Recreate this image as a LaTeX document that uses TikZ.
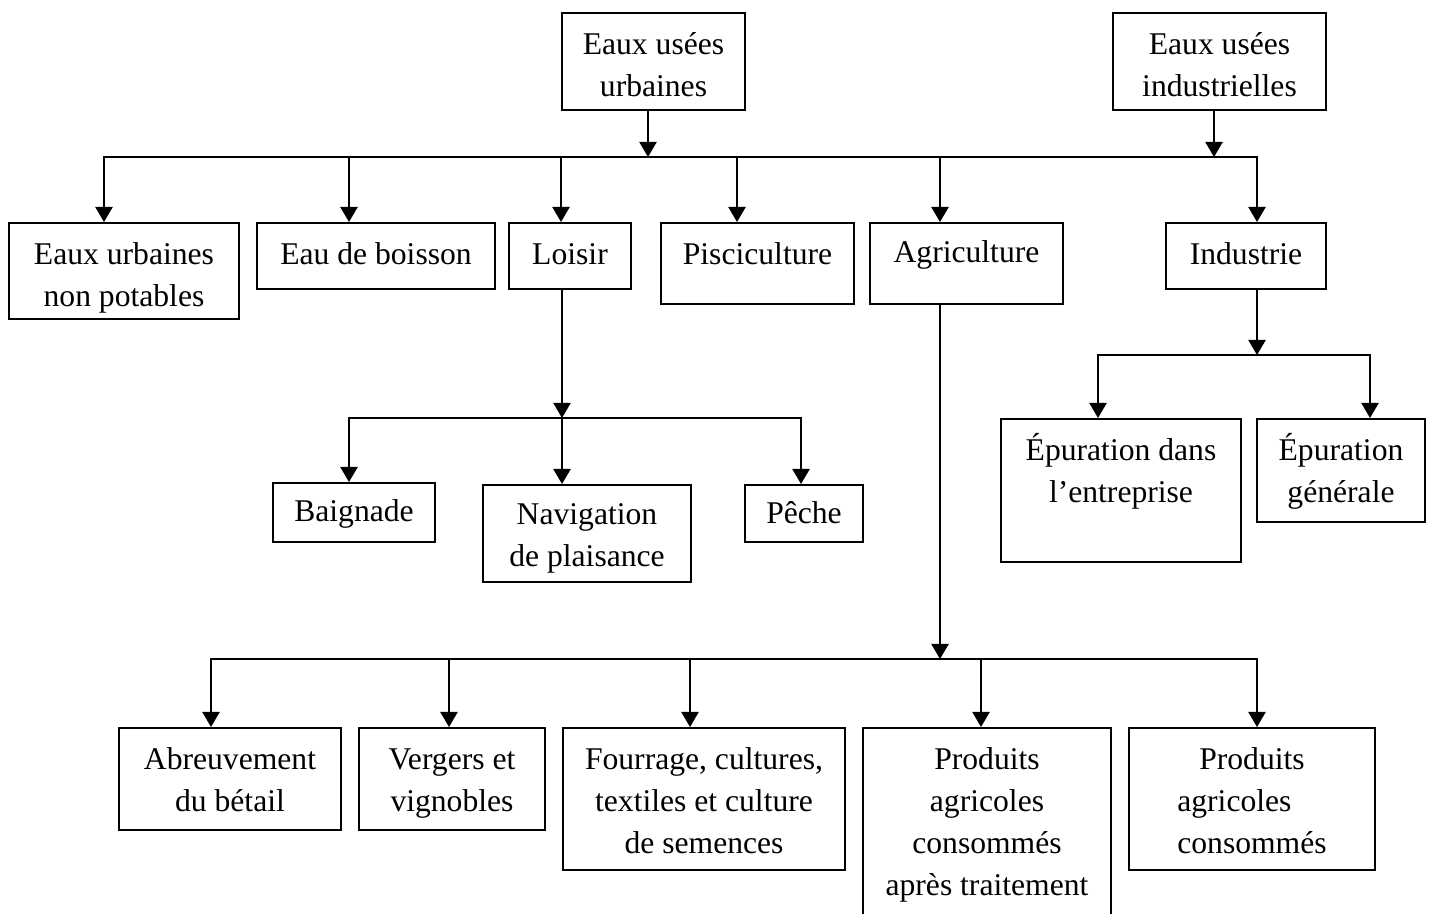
\documentclass[tikz,border=0pt]{standalone}
\usepackage{fontspec}
\setmainfont{Liberation Serif}
\usetikzlibrary{arrows.meta}
\newlength\px \setlength\px{0.02cm}
\newcommand\bx[4][42]{\parbox[c][#3\px][t]{#2\px}{\centering\rule{0pt}{#1\px}#4\par}}
\tikzset{
  box/.style={draw, line width=1.1pt, inner sep=0pt, anchor=north, font=\fontsize{18}{23.9}\selectfont},
  wire/.style={line width=1.1pt, line cap=rect},
  arr/.style={line width=1.1pt, -{Triangle[length=8.6pt,width=9.8pt]}}
}
\begin{document}
\begin{tikzpicture}[x=0.02cm, y=-0.02cm]
\useasboundingbox (0,0) rectangle (1433,913);
\clip (0,0) rectangle (1433,913);
% top sources
\node[box] (urb) at (653.5,12) {\bx{183}{97}{Eaux usées\\urbaines}};
\node[box] (ind) at (1219.5,12) {\bx{213}{97}{Eaux usées\\industrielles}};
% first level
\node[box] (eun) at (124,222) {\bx{230}{96}{Eaux urbaines\\non potables}};
\node[box] (eb) at (376,222) {\bx{238}{66}{Eau de boisson}};
\node[box] (loi) at (570,222) {\bx{122}{66}{Loisir}};
\node[box] (pis) at (757.5,222) {\bx{193}{81}{Pisciculture}};
\node[box] (agr) at (966.5,222) {\bx[40]{193}{81}{Agriculture}};
\node[box] (indu) at (1246,222) {\bx{160}{66}{Industrie}};
% loisir children
\node[box] (bai) at (354,482) {\bx[39]{162}{59}{Baignade}};
\node[box] (nav) at (587,484) {\bx[40]{208}{97}{Navigation\\de plaisance}};
\node[box] (pec) at (804,484) {\bx[39]{118}{57}{Pêche}};
% industrie children
\node[box] (epd) at (1121,418) {\bx{240}{143}{Épuration dans\\l’entreprise}};
\node[box] (epg) at (1341,418) {\bx{168}{103}{Épuration\\générale}};
% agriculture children
\node[box] (abr) at (230,727) {\bx{222}{102}{Abreuvement\\du bétail}};
\node[box] (ver) at (452,727) {\bx{186}{102}{Vergers et\\vignobles}};
\node[box] (fou) at (704,727) {\bx{282}{142}{Fourrage, cultures,\\textiles et culture\\de semences}};
\node[box] (pat) at (987,727) {\bx{248}{240}{Produits\\agricoles\\consommés\\après traitement}};
\node[box] (pc) at (1252,727) {\bx{246}{142}{\begin{tabular}[t]{@{}l@{}}\multicolumn{1}{@{}c@{}}{Produits}\\agricoles\\consommés\end{tabular}}};
% top bus
\coordinate (ju) at (648,157);
\coordinate (ji) at (1214,157);
\coordinate (d1) at (104,157);
\coordinate (d2) at (349,157);
\coordinate (d3) at (561,157);
\coordinate (d4) at (737,157);
\coordinate (d5) at (940,157);
\coordinate (d6) at (1257,157);
\draw[arr] (urb.south -| ju) -- (ju);
\draw[arr] (ind.south -| ji) -- (ji);
\draw[wire] (d1) -- (d6);
\draw[arr] (d1) -- (d1 |- eun.north);
\draw[arr] (d2) -- (d2 |- eb.north);
\draw[arr] (d3) -- (d3 |- loi.north);
\draw[arr] (d4) -- (d4 |- pis.north);
\draw[arr] (d5) -- (d5 |- agr.north);
\draw[arr] (d6) -- (d6 |- indu.north);
% loisir bus
\coordinate (jl) at (562,418);
\coordinate (l1) at (349,418);
\coordinate (l3) at (801,418);
\draw[arr] (loi.south -| jl) -- (jl);
\draw[wire] (l1) -- (l3);
\draw[arr] (l1) -- (l1 |- bai.north);
\draw[arr] (jl) -- (jl |- nav.north);
\draw[arr] (l3) -- (l3 |- pec.north);
% industrie bus
\coordinate (jn) at (1257,355);
\coordinate (n1) at (1098,355);
\coordinate (n2) at (1370,355);
\draw[arr] (indu.south -| jn) -- (jn);
\draw[wire] (n1) -- (n2);
\draw[arr] (n1) -- (n1 |- epd.north);
\draw[arr] (n2) -- (n2 |- epg.north);
% agriculture bus
\coordinate (ja) at (940,659);
\coordinate (a1) at (211,659);
\coordinate (a2) at (449,659);
\coordinate (a3) at (690,659);
\coordinate (a4) at (981,659);
\coordinate (a5) at (1257,659);
\draw[arr] (agr.south -| ja) -- (ja);
\draw[wire] (a1) -- (a5);
\draw[arr] (a1) -- (a1 |- abr.north);
\draw[arr] (a2) -- (a2 |- ver.north);
\draw[arr] (a3) -- (a3 |- fou.north);
\draw[arr] (a4) -- (a4 |- pat.north);
\draw[arr] (a5) -- (a5 |- pc.north);
\end{tikzpicture}
\end{document}
